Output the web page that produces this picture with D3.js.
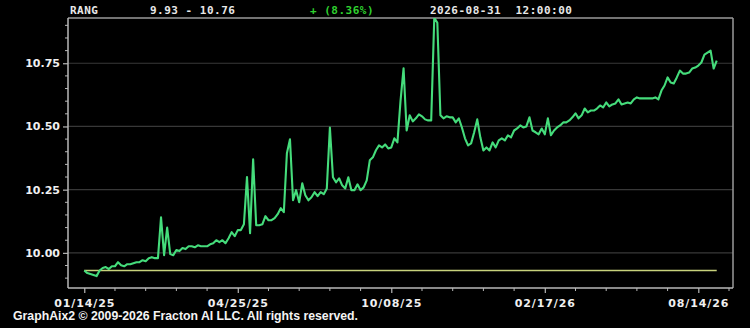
<!DOCTYPE html>
<html>
<head>
<meta charset="utf-8">
<script src="https://cdn.jsdelivr.net/npm/d3@7"></script>
<style>
  html, body { margin: 0; padding: 0; background: #000; }
  svg { display: block; }
  .hdr text { white-space: pre; }
</style>
</head>
<body>
<svg id="chart" width="750" height="328"></svg>
<script>
// ---------------- data ----------------
const symbol = "RANG";
const rangeText = "9.93 - 10.76";
const changeText = "+ (8.36%)";
const stampText = "2026-08-31  12:00:00";
const footerText = "GraphAix2 \u00A9 2009-2026 Fracton AI LLC. All rights reserved.";

const baseValue = 9.93;           // reference (start) level
const indexStep = 2;              // sample spacing on the bar-index axis
const prices = [
  9.93, 9.920, 9.916, 9.912, 9.908, 9.930, 9.940, 9.944, 9.936, 9.947,
  9.947, 9.963, 9.951, 9.947, 9.955, 9.955, 9.959, 9.963, 9.963, 9.971,
  9.967, 9.979, 9.983, 9.979, 9.979, 10.141, 9.991, 10.100, 9.995, 9.991,
  10.011, 10.007, 10.019, 10.015, 10.026, 10.026, 10.022, 10.030, 10.026, 10.026,
  10.026, 10.034, 10.038, 10.050, 10.042, 10.050, 10.038, 10.058, 10.082, 10.066,
  10.090, 10.090, 10.113, 10.300, 10.078, 10.370, 10.109, 10.109, 10.113, 10.145,
  10.129, 10.129, 10.137, 10.153, 10.177, 10.161, 10.394, 10.449, 10.208, 10.248,
  10.200, 10.275, 10.228, 10.208, 10.220, 10.240, 10.224, 10.240, 10.232, 10.255,
  10.496, 10.299, 10.279, 10.295, 10.267, 10.255, 10.299, 10.248, 10.248, 10.271,
  10.248, 10.259, 10.287, 10.366, 10.378, 10.406, 10.425, 10.417, 10.429, 10.413,
  10.417, 10.453, 10.437, 10.600, 10.730, 10.484, 10.544, 10.520, 10.532, 10.548,
  10.540, 10.528, 10.524, 10.524, 10.930, 10.910, 10.544, 10.532, 10.540, 10.536,
  10.536, 10.516, 10.532, 10.496, 10.453, 10.425, 10.433, 10.477, 10.528, 10.457,
  10.405, 10.417, 10.405, 10.437, 10.417, 10.445, 10.453, 10.445, 10.465, 10.457,
  10.484, 10.492, 10.504, 10.496, 10.500, 10.536, 10.484, 10.477, 10.469, 10.492,
  10.469, 10.532, 10.465, 10.484, 10.496, 10.504, 10.516, 10.516, 10.524, 10.536,
  10.552, 10.532, 10.544, 10.571, 10.556, 10.563, 10.563, 10.571, 10.583, 10.575,
  10.595, 10.579, 10.587, 10.591, 10.607, 10.587, 10.591, 10.595, 10.591, 10.607,
  10.615, 10.611, 10.611, 10.611, 10.611, 10.611, 10.615, 10.607, 10.642, 10.662,
  10.694, 10.674, 10.670, 10.694, 10.721, 10.709, 10.709, 10.713, 10.729, 10.733,
  10.741, 10.753, 10.784, 10.792, 10.800, 10.729, 10.760
];

const xTickIndex = [0, 100, 200, 300, 400];
const xTickLabels = ["01/14/25", "04/25/25", "10/08/25", "02/17/26", "08/14/26"];
const xMinorStep = 20;
const yTicks = [10.00, 10.25, 10.50, 10.75];
const yMinorStep = 0.05;
const xDomain = [-10.6, 422.6];
const yDomain = [9.861, 10.929];

// ---------------- layout ----------------
const svg = d3.select("#chart");
const W = 750, H = 328;
const m = { left: 68, right: 17, top: 18, bottom: 40 };
const plotR = W - m.right, plotB = H - m.bottom;

svg.append("rect").attr("width", W).attr("height", H).attr("fill", "#000");

const x = d3.scaleLinear().domain(xDomain).range([m.left, plotR]);
const y = d3.scaleLinear().domain(yDomain).range([plotB, m.top]);

const axisColor = "#b8b8b8";
const gridColor = "#383838";

// gridlines
svg.append("g").selectAll("line").data(yTicks).join("line")
  .attr("x1", m.left).attr("x2", plotR)
  .attr("y1", d => y(d)).attr("y2", d => y(d))
  .attr("stroke", gridColor).attr("stroke-width", 1.2);

// frame top / right
svg.append("line").attr("x1", m.left).attr("x2", plotR).attr("y1", m.top).attr("y2", m.top)
  .attr("stroke", "#9a9a9a").attr("stroke-width", 1.5);
svg.append("line").attr("x1", plotR).attr("x2", plotR).attr("y1", m.top).attr("y2", plotB)
  .attr("stroke", "#9a9a9a").attr("stroke-width", 1.5);

// minor ticks
const yMinor = d3.range(Math.ceil(yDomain[0] / yMinorStep) * yMinorStep, yDomain[1], yMinorStep)
  .filter(v => !yTicks.some(t => Math.abs(t - v) < 1e-6));
svg.append("g").selectAll("line").data(yMinor).join("line")
  .attr("x1", m.left - 3).attr("x2", m.left)
  .attr("y1", d => y(d)).attr("y2", d => y(d))
  .attr("stroke", axisColor).attr("stroke-width", 1);
const xMinor = d3.range(Math.ceil(xDomain[0] / xMinorStep) * xMinorStep, xDomain[1], xMinorStep)
  .filter(v => !xTickIndex.includes(v));
svg.append("g").selectAll("line").data(xMinor).join("line")
  .attr("x1", d => x(d)).attr("x2", d => x(d))
  .attr("y1", plotB).attr("y2", plotB + 3)
  .attr("stroke", axisColor).attr("stroke-width", 1);

// axes
const yAxis = d3.axisLeft(y).tickValues(yTicks).tickFormat(d3.format(".2f")).tickSize(5).tickPadding(3);
const gy = svg.append("g").attr("transform", `translate(${m.left},0)`).call(yAxis);
gy.select(".domain").attr("d", `M0,${m.top}V${plotB}`);
const xAxis = d3.axisBottom(x).tickValues(xTickIndex)
  .tickFormat((d, i) => xTickLabels[i]).tickSize(5).tickPadding(6);
const gx = svg.append("g").attr("transform", `translate(0,${plotB})`).call(xAxis);
gx.select(".domain").attr("d", `M${m.left},0H${plotR}`);

[gx, gy].forEach(g => {
  g.selectAll(".domain").attr("stroke", axisColor).attr("stroke-width", 1.5);
  g.selectAll(".tick line").attr("stroke", axisColor).attr("stroke-width", 1.2);
  g.selectAll("text").attr("fill", "#f0f0f0")
    .style("font-family", "'DejaVu Sans', sans-serif")
    .style("font-weight", "bold").style("font-size", "11px");
});
gx.selectAll("text").style("letter-spacing", "0.9px");

// clip
svg.append("clipPath").attr("id", "clip").append("rect")
  .attr("x", m.left).attr("y", m.top).attr("width", plotR - m.left).attr("height", plotB - m.top);

const plot = svg.append("g").attr("clip-path", "url(#clip)");

// base level line
plot.append("line")
  .attr("x1", x(0)).attr("x2", x((prices.length - 1) * indexStep))
  .attr("y1", y(baseValue)).attr("y2", y(baseValue))
  .attr("stroke", "#c8d27c").attr("stroke-width", 1.6);

// price line
const line = d3.line().x((d, i) => x(i * indexStep)).y(d => y(d));
plot.append("path").datum(prices).attr("d", line)
  .attr("fill", "none").attr("stroke", "#45dc7b").attr("stroke-width", 2.1)
  .attr("stroke-linejoin", "round");

// header
const hdr = svg.append("g").attr("class", "hdr")
  .style("font-family", "'DejaVu Sans Mono', monospace")
  .style("font-size", "11px").style("font-weight", "bold")
  .style("letter-spacing", "0.5px");
const hdrItems = [
  { t: symbol, x: 70, c: "#e8e8e8" },
  { t: rangeText, x: 150, c: "#e8e8e8" },
  { t: changeText, x: 310, c: "#2fd12f" },
  { t: stampText, x: 430, c: "#e8e8e8" }
];
hdr.selectAll("text").data(hdrItems).join("text")
  .attr("x", d => d.x).attr("y", 14).attr("fill", d => d.c)
  .attr("xml:space", "preserve")
  .style("white-space", "pre")
  .text(d => d.t);

// footer
svg.append("text").attr("x", 13).attr("y", 320)
  .attr("fill", "#f4f4f4")
  .style("font-family", "'Liberation Sans', Arial, sans-serif")
  .style("font-weight", "bold").style("font-size", "12.5px")
  .attr("textLength", 345).attr("lengthAdjust", "spacingAndGlyphs")
  .text(footerText);
</script>
</body>
</html>
